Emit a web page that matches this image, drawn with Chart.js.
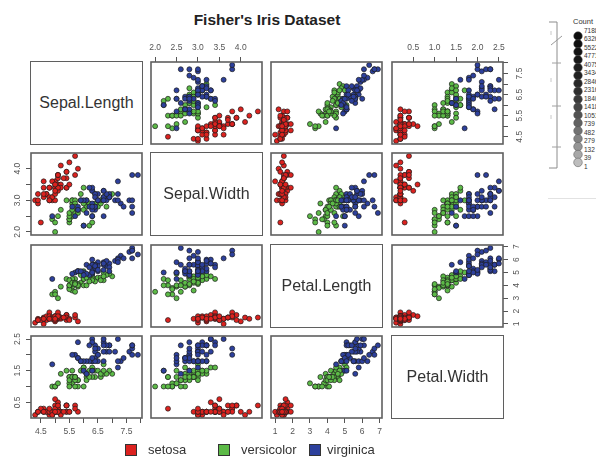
<!DOCTYPE html>
<html>
<head>
<meta charset="utf-8">
<script src="https://cdn.jsdelivr.net/npm/chart.js@4.4.1/dist/chart.umd.min.js"></script>
<style>
  body { margin: 0; width: 596px; height: 460px; background: #fff; position: relative; overflow: hidden;
         font-family: "Liberation Sans", Arial, sans-serif; }
  canvas.panel { position: absolute; }
  .diag { position: absolute; box-sizing: border-box; border: 1.6px solid #5f5f5f; display: flex;
          align-items: center; justify-content: center; font-size: 16px; color: #333; }
  #title { position: absolute; left: 0; width: 534px; top: 11px; text-align: center;
           font-weight: bold; font-size: 15.5px; color: #222; }
  .key-box { position: absolute; width: 10px; height: 10px; border: 1px solid #333; }
  .key-text { position: absolute; font-size: 13px; line-height: 15px; color: #333; }
  #side { position: absolute; left: 0; top: 0; }
</style>
</head>
<body>
<div id="title">Fisher's Iris Dataset</div>
<svg id="side" width="596" height="210"></svg>
<script>
const VARS = ["Sepal.Length", "Sepal.Width", "Petal.Length", "Petal.Width"];
const SPECIES = ["setosa", "versicolor", "virginica"];
const SPECIES_COLORS = ["#dc221f", "#5cba47", "#2d409c"];
const PER_SPECIES = 50;

// 50 setosa, then 50 versicolor, then 50 virginica
const SEPAL_LENGTH = [
  5.1,4.9,4.7,4.6,5.0,5.4,4.6,5.0,4.4,4.9,5.4,4.8,4.8,4.3,5.8,5.7,5.4,5.1,5.7,5.1,5.4,5.1,4.6,5.1,4.8,
  5.0,5.0,5.2,5.2,4.7,4.8,5.4,5.2,5.5,4.9,5.0,5.5,4.9,4.4,5.1,5.0,4.5,4.4,5.0,5.1,4.8,5.1,4.6,5.3,5.0,
  7.0,6.4,6.9,5.5,6.5,5.7,6.3,4.9,6.6,5.2,5.0,5.9,6.0,6.1,5.6,6.7,5.6,5.8,6.2,5.6,5.9,6.1,6.3,6.1,6.4,
  6.6,6.8,6.7,6.0,5.7,5.5,5.5,5.8,6.0,5.4,6.0,6.7,6.3,5.6,5.5,5.5,6.1,5.8,5.0,5.6,5.7,5.7,6.2,5.1,5.7,
  6.3,5.8,7.1,6.3,6.5,7.6,4.9,7.3,6.7,7.2,6.5,6.4,6.8,5.7,5.8,6.4,6.5,7.7,7.7,6.0,6.9,5.6,7.7,6.3,6.7,
  7.2,6.2,6.1,6.4,7.2,7.4,7.9,6.4,6.3,6.1,7.7,6.3,6.4,6.0,6.9,6.7,6.9,5.8,6.8,6.7,6.7,6.3,6.5,6.2,5.9,
];
const SEPAL_WIDTH = [
  3.5,3.0,3.2,3.1,3.6,3.9,3.4,3.4,2.9,3.1,3.7,3.4,3.0,3.0,4.0,4.4,3.9,3.5,3.8,3.8,3.4,3.7,3.6,3.3,3.4,
  3.0,3.4,3.5,3.4,3.2,3.1,3.4,4.1,4.2,3.1,3.2,3.5,3.6,3.0,3.4,3.5,2.3,3.2,3.5,3.8,3.0,3.8,3.2,3.7,3.3,
  3.2,3.2,3.1,2.3,2.8,2.8,3.3,2.4,2.9,2.7,2.0,3.0,2.2,2.9,2.9,3.1,3.0,2.7,2.2,2.5,3.2,2.8,2.5,2.8,2.9,
  3.0,2.8,3.0,2.9,2.6,2.4,2.4,2.7,2.7,3.0,3.4,3.1,2.3,3.0,2.5,2.6,3.0,2.6,2.3,2.7,3.0,2.9,2.9,2.5,2.8,
  3.3,2.7,3.0,2.9,3.0,3.0,2.5,2.9,2.5,3.6,3.2,2.7,3.0,2.5,2.8,3.2,3.0,3.8,2.6,2.2,3.2,2.8,2.8,2.7,3.3,
  3.2,2.8,3.0,2.8,3.0,2.8,3.8,2.8,2.8,2.6,3.0,3.4,3.1,3.0,3.1,3.1,3.1,2.7,3.2,3.3,3.0,2.5,3.0,3.4,3.0,
];
const PETAL_LENGTH = [
  1.4,1.4,1.3,1.5,1.4,1.7,1.4,1.5,1.4,1.5,1.5,1.6,1.4,1.1,1.2,1.5,1.3,1.4,1.7,1.5,1.7,1.5,1.0,1.7,1.9,
  1.6,1.6,1.5,1.4,1.6,1.6,1.5,1.5,1.4,1.5,1.2,1.3,1.4,1.3,1.5,1.3,1.3,1.3,1.6,1.9,1.4,1.6,1.4,1.5,1.4,
  4.7,4.5,4.9,4.0,4.6,4.5,4.7,3.3,4.6,3.9,3.5,4.2,4.0,4.7,3.6,4.4,4.5,4.1,4.5,3.9,4.8,4.0,4.9,4.7,4.3,
  4.4,4.8,5.0,4.5,3.5,3.8,3.7,3.9,5.1,4.5,4.5,4.7,4.4,4.1,4.0,4.4,4.6,4.0,3.3,4.2,4.2,4.2,4.3,3.0,4.1,
  6.0,5.1,5.9,5.6,5.8,6.6,4.5,6.3,5.8,6.1,5.1,5.3,5.5,5.0,5.1,5.3,5.5,6.7,6.9,5.0,5.7,4.9,6.7,4.9,5.7,
  6.0,4.8,4.9,5.6,5.8,6.1,6.4,5.6,5.1,5.6,6.1,5.6,5.5,4.8,5.4,5.6,5.1,5.1,5.9,5.7,5.2,5.0,5.2,5.4,5.1,
];
const PETAL_WIDTH = [
  0.2,0.2,0.2,0.2,0.2,0.4,0.3,0.2,0.2,0.1,0.2,0.2,0.1,0.1,0.2,0.4,0.4,0.3,0.3,0.3,0.2,0.4,0.2,0.5,0.2,
  0.2,0.4,0.2,0.2,0.2,0.2,0.4,0.1,0.2,0.2,0.2,0.2,0.1,0.2,0.2,0.3,0.3,0.2,0.6,0.4,0.3,0.2,0.2,0.2,0.2,
  1.4,1.5,1.5,1.3,1.5,1.3,1.6,1.0,1.3,1.4,1.0,1.5,1.0,1.4,1.3,1.4,1.5,1.0,1.5,1.1,1.8,1.3,1.5,1.2,1.3,
  1.4,1.4,1.7,1.5,1.0,1.1,1.0,1.2,1.6,1.5,1.6,1.5,1.3,1.3,1.3,1.2,1.4,1.2,1.0,1.3,1.2,1.3,1.3,1.1,1.3,
  2.5,1.9,2.1,1.8,2.2,2.1,1.7,1.8,1.8,2.5,2.0,1.9,2.1,2.0,2.4,2.3,1.8,2.2,2.3,1.5,2.3,2.0,2.0,1.8,2.1,
  1.8,1.8,1.8,2.1,1.6,1.9,2.0,2.2,1.5,1.4,2.3,2.4,1.8,1.8,2.1,2.4,2.3,1.9,2.3,2.5,2.3,1.9,2.0,2.3,1.8,
];

// axis ticks and their labels (blank = tick mark only)
const SL_TICKS = [4.5, 5, 5.5, 6, 6.5, 7, 7.5, 8];
const SL_LABELS = ["4.5", "", "5.5", "", "6.5", "", "7.5", ""];
const SW_TICKS = [2, 2.5, 3, 3.5, 4];
const SW_LABELS_H = ["2.0", "2.5", "3.0", "3.5", "4.0"];
const SW_LABELS_V = ["2.0", "", "3.0", "", "4.0"];
const PL_TICKS = [1, 2, 3, 4, 5, 6, 7];
const PL_LABELS = ["1", "2", "3", "4", "5", "6", "7"];
const PW_TICKS = [0.5, 1, 1.5, 2, 2.5];
const PW_LABELS_H = ["0.5", "1.0", "1.5", "2.0", "2.5"];
const PW_LABELS_V = ["0.5", "", "1.5", "", "2.5"];

// grey "Count" key on the right edge
const COUNT_LABELS = ["7188", "6326", "5522", "4771", "4075", "3434", "2846", "2316", "1840",
                      "1418", "1051", "739", "482", "279", "132", "39", "1"];
const COUNT_SHADES = ["#0d0d0d", "#101010", "#141414", "#181818", "#1d1d1d", "#222", "#282828", "#2f2f2f",
                      "#3a3a3a", "#464646", "#535353", "#626262", "#727272", "#838383", "#959595", "#a8a8a8", "#bdbdbd"];

const COLUMNS = [SEPAL_LENGTH, SEPAL_WIDTH, PETAL_LENGTH, PETAL_WIDTH];
const TICKS = [SL_TICKS, SW_TICKS, PL_TICKS, PW_TICKS];
const LABELS_H = [SL_LABELS, SW_LABELS_H, PL_LABELS, PW_LABELS_H];
const LABELS_V = [SL_LABELS, SW_LABELS_V, PL_LABELS, PW_LABELS_V];

const FONT = "'Liberation Sans', Arial, sans-serif";
const FRAME = "#5f5f5f";
const FRAME_W = 1.6;
const BOX_X = [31, 151, 271, 392];
const BOX_Y = [62, 153, 245, 336];
const BOX_W = 111;
const BOX_H = 82;
const MARGIN = 30;
const AXIS = 24;

// data range padded by 4% on each side, like base graphics
function range(v) {
  const lo = Math.min(...COLUMNS[v]);
  const hi = Math.max(...COLUMNS[v]);
  const pad = (hi - lo) * 0.04;
  return [lo - pad, hi + pad];
}

const frame = {
  id: "frame",
  afterDraw(chart) {
    const { ctx, chartArea: a } = chart;
    ctx.save();
    ctx.strokeStyle = FRAME;
    ctx.lineWidth = FRAME_W;
    ctx.strokeRect(a.left, a.top, a.right - a.left, a.bottom - a.top);
    ctx.restore();
  },
};

function scaleCfg(v, horizontal, pos) {
  const labels = horizontal ? LABELS_H[v] : LABELS_V[v];
  const shown = pos !== null;
  const [lo, hi] = range(v);
  return {
    type: "linear",
    display: shown,
    position: pos || (horizontal ? "bottom" : "left"),
    min: lo,
    max: hi,
    bounds: "data",
    afterBuildTicks: (s) => { s.ticks = TICKS[v].map((value) => ({ value })); },
    afterFit: (s) => {
      if (!shown) return;
      if (horizontal) s.height = AXIS; else s.width = AXIS;
    },
    grid: { drawOnChartArea: false, drawTicks: true, tickLength: 5, color: "#555", lineWidth: 1 },
    border: { display: false },
    ticks: {
      autoSkip: false,
      color: "#555",
      font: { family: FONT, size: 8.5 },
      padding: horizontal ? 4 : pos === "right" ? 6 : 2,
      minRotation: horizontal ? 0 : 90,
      maxRotation: horizontal ? 0 : 90,
      crossAlign: horizontal ? "near" : "center",
      callback: (value, i) => labels[i],
    },
  };
}

function makeDiag(i) {
  const d = document.createElement("div");
  d.className = "diag";
  d.style.left = BOX_X[i] - FRAME_W / 2 + "px";
  d.style.top = BOX_Y[i] - FRAME_W / 2 + "px";
  d.style.width = BOX_W + FRAME_W + "px";
  d.style.height = BOX_H + FRAME_W + "px";
  d.textContent = VARS[i];
  document.body.appendChild(d);
}

function makePanel(r, c) {
  const xPos = r === 0 && c % 2 === 1 ? "top" : r === 3 && c % 2 === 0 ? "bottom" : null;
  const yPos = c === 0 && r % 2 === 1 ? "left" : c === 3 && r % 2 === 0 ? "right" : null;

  const cv = document.createElement("canvas");
  cv.className = "panel";
  cv.width = BOX_W + 2 * MARGIN;
  cv.height = BOX_H + 2 * MARGIN;
  cv.style.left = BOX_X[c] - MARGIN + "px";
  cv.style.top = BOX_Y[r] - MARGIN + "px";
  document.body.appendChild(cv);

  const datasets = SPECIES.map((name, s) => {
    const pts = [];
    for (let k = s * PER_SPECIES; k < (s + 1) * PER_SPECIES; k++) {
      pts.push({ x: COLUMNS[c][k], y: COLUMNS[r][k] });
    }
    return {
      label: name,
      data: pts,
      order: SPECIES.length - s,
      pointRadius: 2.5,
      pointBackgroundColor: SPECIES_COLORS[s],
      pointBorderColor: "#1c1c1c",
      pointBorderWidth: 0.7,
    };
  });

  new Chart(cv, {
    type: "scatter",
    data: { datasets },
    options: {
      responsive: false,
      animation: false,
      events: [],
      layout: {
        padding: {
          top: xPos === "top" ? MARGIN - AXIS : MARGIN,
          bottom: xPos === "bottom" ? MARGIN - AXIS : MARGIN,
          left: yPos === "left" ? MARGIN - AXIS : MARGIN,
          right: yPos === "right" ? MARGIN - AXIS : MARGIN,
        },
      },
      scales: { x: scaleCfg(c, true, xPos), y: scaleCfg(r, false, yPos) },
      plugins: { legend: { display: false }, tooltip: { enabled: false } },
    },
    plugins: [frame],
  });
}

function makeKey() {
  const keyX = [125, 218, 309];
  const textX = [148, 241, 327];
  SPECIES.forEach((name, s) => {
    const b = document.createElement("div");
    b.className = "key-box";
    b.style.left = keyX[s] + "px";
    b.style.top = "444px";
    b.style.background = SPECIES_COLORS[s];
    document.body.appendChild(b);
    const t = document.createElement("div");
    t.className = "key-text";
    t.style.left = textX[s] + "px";
    t.style.top = "442px";
    t.textContent = name;
    document.body.appendChild(t);
  });
}

function makeCountKey() {
  const svg = document.getElementById("side");
  let html = `
    <path d="M549 22 H557 V168 H549" fill="none" stroke="#8c8c8c" stroke-width="1"/>
    <path d="M551 45 L562 36" stroke="#9a9a9a" stroke-width="1"/>
    <path d="M552 63 H561 M552 106 H561 M552 147 H561" stroke="#a0a0a0" stroke-width="1"/>
    <path d="M551 31 V35 M551 78 V82 M551 115 V119" stroke="#c8c8c8" stroke-width="1"/>
    <path d="M548 198.5 H596" stroke="#e2e2e2" stroke-width="1"/>
    <text x="573" y="24" font-size="7.5" fill="#333" font-family="Liberation Sans">Count</text>`;
  COUNT_LABELS.forEach((lab, k) => {
    const cy = 36 + k * 7.9;
    html += `<circle cx="578" cy="${cy}" r="4.3" fill="${COUNT_SHADES[k]}" stroke="#555" stroke-width="0.5"/>`;
    html += `<text x="584" y="${32.5 + k * 8.5}" font-size="6.5" fill="#333" font-family="Liberation Sans">${lab}</text>`;
  });
  svg.innerHTML = html;
}

for (let r = 0; r < 4; r++) {
  for (let c = 0; c < 4; c++) {
    if (r === c) makeDiag(r);
    else makePanel(r, c);
  }
}
makeKey();
makeCountKey();
</script>
</body>
</html>
